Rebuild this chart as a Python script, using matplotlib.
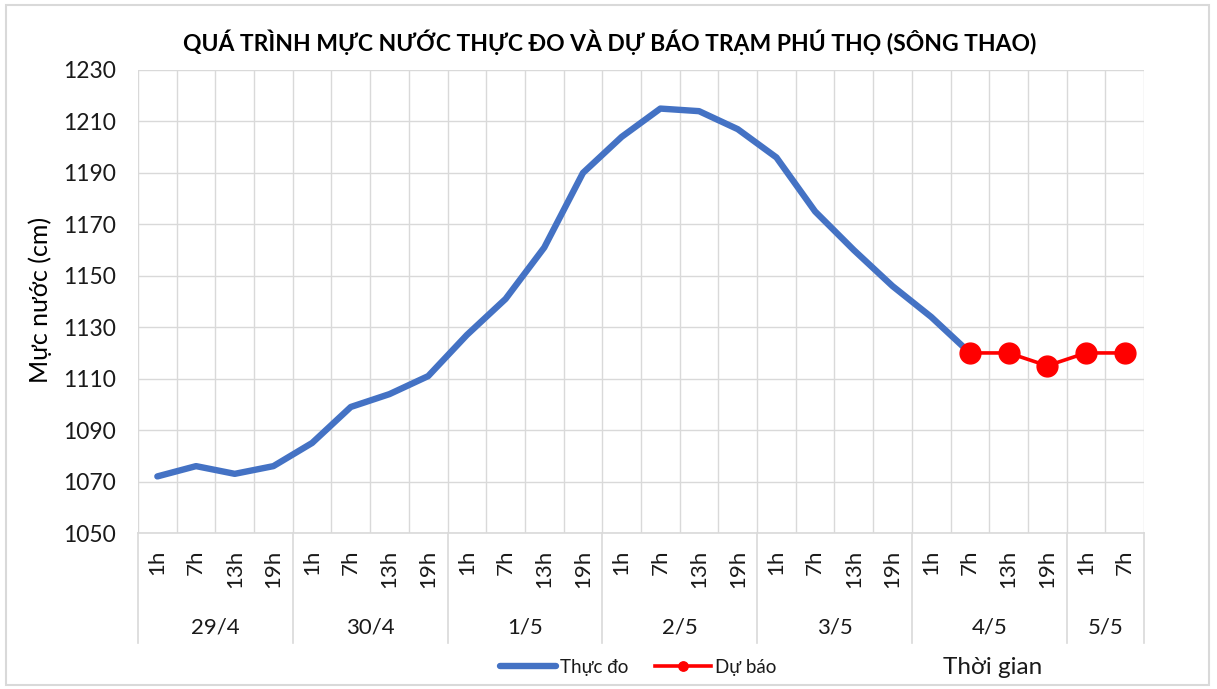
import matplotlib
matplotlib.use("Agg")
import matplotlib.pyplot as plt
import matplotlib.transforms as mtransforms
from matplotlib.lines import Line2D
from matplotlib.patches import Rectangle
import numpy as np

# ---- data ----
dates = ["29/4", "30/4", "1/5", "2/5", "3/5", "4/5", "5/5"]
hours_per_date = [["1h", "7h", "13h", "19h"]] * 6 + [["1h", "7h"]]
hour_labels = [h for hs in hours_per_date for h in hs]
measured = [1072, 1076, 1073, 1076, 1085, 1099, 1104, 1111,
            1127, 1141, 1161, 1190, 1204, 1215, 1214, 1207,
            1196, 1175, 1160, 1146, 1134, 1120]
forecast_start = 21
forecast = [1120, 1120, 1115, 1120, 1120]
title = "QUÁ TRÌNH MỰC NƯỚC THỰC ĐO VÀ DỰ BÁO TRẠM PHÚ THỌ (SÔNG THAO)"
ylabel = "Mực nước (cm)"
xlabel = "Thời gian"
series_names = ["Thực đo", "Dự báo"]
yticks = list(range(1050, 1231, 20))

plt.rcParams['font.family'] = ['Lato', 'DejaVu Sans']

W, H = 1217, 689
fig = plt.figure(figsize=(W / 100, H / 100), dpi=100)
fig.patch.set_facecolor("white")
# outer border
fig.add_artist(Rectangle((6 / W, 1 - 685 / H), (1209 - 6) / W, (685 - 5) / H,
                         transform=fig.transFigure, fill=False,
                         edgecolor="#d9d9d9", lw=1.5))

L, R, T, B = 138, 1144, 70, 533
ax = fig.add_axes([L / W, 1 - B / H, (R - L) / W, (B - T) / H])

n = len(hour_labels)
x = np.arange(n) + 0.5
grid_c = "#d9d9d9"
txt_c = "#1a1a1a"

ax.set_xlim(0, n)
ax.set_ylim(yticks[0], yticks[-1])
ax.set_yticks(yticks)
ax.tick_params(axis="y", length=0, pad=16, labelsize=16.5, labelcolor=txt_c)
ax.set_xticks(x)
ax.set_xticklabels(hour_labels, rotation=90, fontsize=16, color=txt_c)
ax.tick_params(axis="x", length=0, pad=12)
ax.set_xticks(np.arange(0, n + 0.01, 0.5), minor=True)
ax.tick_params(axis="x", which="minor", length=0)
ax.grid(True, which="minor", axis="x", color=grid_c, lw=1)
ax.grid(True, which="major", axis="y", color=grid_c, lw=1)
ax.grid(False, which="major", axis="x")
for s in ["left", "right", "top"]:
    ax.spines[s].set_visible(False)
ax.spines["bottom"].set_color(grid_c)
ax.spines["bottom"].set_linewidth(1.2)
ax.set_axisbelow(True)

l1, = ax.plot(x[:len(measured)], measured, color="#4472C4", lw=4.6,
              solid_capstyle="round", solid_joinstyle="round", zorder=3)
xf = x[forecast_start:forecast_start + len(forecast)]
l2, = ax.plot(xf, forecast, color="#FF0000", lw=2.6, marker="o",
              markersize=15, zorder=4)

# group separators and date labels
trans = mtransforms.blended_transform_factory(ax.transData, fig.transFigure)
bounds = [0]
for hs in hours_per_date:
    bounds.append(bounds[-1] + len(hs))
for b in bounds:
    ax.add_line(Line2D([b, b], [1 - B / H, 1 - 643 / H], transform=trans,
                       color=grid_c, lw=1.2, clip_on=False))
for i, d in enumerate(dates):
    cx = (bounds[i] + bounds[i + 1]) / 2
    ax.text(cx, 1 - 628 / H, d, transform=trans, ha="center", va="center",
            fontsize=16, color=txt_c)

fig.text(610 / W, 1 - 42 / H, title, ha="center", va="center",
         fontsize=16.5, fontweight="bold", color="#000000")
fig.text(40 / W, 1 - 300 / H, ylabel, ha="center", va="center", rotation=90,
         fontsize=18, color="#000000")
fig.text(993 / W, 1 - 667 / H, xlabel, ha="center", va="center",
         fontsize=17.5, color=txt_c)

fig.legend([l1, l2], series_names, loc="center",
           bbox_to_anchor=(638 / W, 1 - 667 / H), ncol=2, frameon=False,
           fontsize=13.5, handlelength=3.0, handletextpad=0.2,
           columnspacing=1.4, markerscale=0.45, labelcolor=txt_c)

fig.savefig("out.png", dpi=100, facecolor="white")
